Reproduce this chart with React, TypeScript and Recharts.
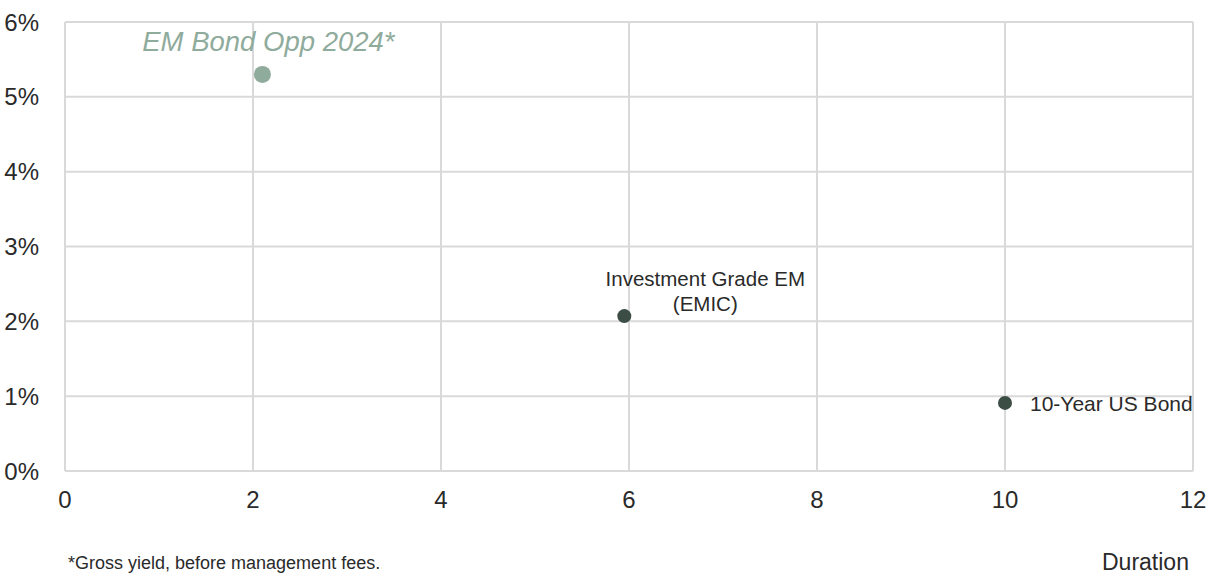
import { ScatterChart, Scatter, XAxis, YAxis, CartesianGrid } from "recharts";

// duration (years) vs yield (%)
const names = ["EM Bond Opp 2024*", "Investment Grade EM (EMIC)", "10-Year US Bond"];
const durations = [2.1, 5.95, 10];
const yields = [5.3, 2.07, 0.91];
const xTicks = [0, 2, 4, 6, 8, 10, 12];
const yTicks = [0, 1, 2, 3, 4, 5, 6];

const FONT = "'Liberation Sans', Arial, sans-serif";
const LIGHT = "#8fab9c";
const DARK = "#3b4d45";
const INK = "#2a2a2a";

const fund = [{ x: durations[0], y: yields[0], name: names[0] }];
const benchmarks = [
  { x: durations[1], y: yields[1], name: names[1] },
  { x: durations[2], y: yields[2], name: names[2] },
];

function FundDot(props: any) {
  const { cx, cy, payload } = props;
  return (
    <g>
      <circle cx={cx} cy={cy} r={8.5} fill={LIGHT} />
      <text x={cx + 6} y={cy - 23} textAnchor="middle" fontSize={27.5} fontStyle="italic" fill={LIGHT} fontFamily={FONT}>
        {payload.name}
      </text>
    </g>
  );
}

function BenchDot(props: any) {
  const { cx, cy, payload } = props;
  const label =
    payload.name === names[1] ? (
      <text textAnchor="middle" fontSize={20.5} fill={INK} fontFamily={FONT}>
        <tspan x={cx + 81} y={cy - 30}>Investment Grade EM</tspan>
        <tspan x={cx + 81} y={cy - 5}>(EMIC)</tspan>
      </text>
    ) : (
      <text x={cx + 25} y={cy + 8} fontSize={21} fill={INK} fontFamily={FONT}>
        {payload.name}
      </text>
    );
  return (
    <g>
      <circle cx={cx} cy={cy} r={7} fill={DARK} />
      {label}
    </g>
  );
}

export default function App() {
  return (
    <div style={{ position: "absolute", left: 0, top: 0, width: 1219, height: 575, background: "#fff", overflow: "hidden" }}>
      <ScatterChart width={1219} height={575} margin={{ top: 22, right: 26, bottom: 74, left: 0 }}>
        <CartesianGrid stroke="#d9d9d9" strokeWidth={2} />
        <XAxis
          type="number"
          dataKey="x"
          domain={[0, 12]}
          ticks={xTicks}
          height={30}
          axisLine={{ stroke: "#d9d9d9", strokeWidth: 2 }}
          tickLine={false}
          tick={{ fontSize: 24, fill: INK, fontFamily: FONT }}
          tickMargin={14}
        />
        <YAxis
          type="number"
          dataKey="y"
          domain={[0, 6]}
          ticks={yTicks}
          width={65}
          axisLine={{ stroke: "#d9d9d9", strokeWidth: 2 }}
          tickLine={false}
          tick={{ fontSize: 24, fill: INK, fontFamily: FONT }}
          tickFormatter={(v) => `${v}%`}
          tickMargin={20}
        />
        <Scatter data={fund} shape={<FundDot />} isAnimationActive={false} />
        <Scatter data={benchmarks} shape={<BenchDot />} isAnimationActive={false} />
      </ScatterChart>
      <div style={{ position: "absolute", left: 68, top: 553, fontSize: 18, fontFamily: FONT, color: INK, whiteSpace: "nowrap" }}>
        *Gross yield, before management fees.
      </div>
      <div style={{ position: "absolute", left: 1102, top: 549, fontSize: 23, fontFamily: FONT, color: INK, whiteSpace: "nowrap" }}>
        Duration
      </div>
    </div>
  );
}
